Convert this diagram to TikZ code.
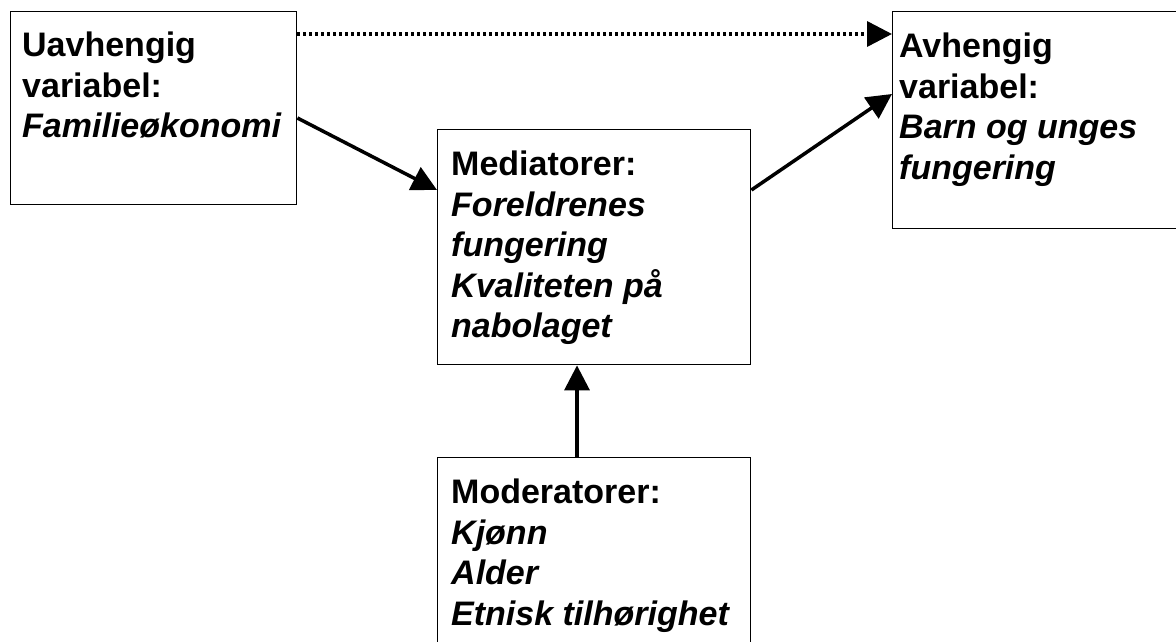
\documentclass[tikz,border=0pt]{standalone}
\usepackage{fontspec}
\setmainfont{Liberation Sans}
\usetikzlibrary{arrows.meta}

\begin{document}
\begin{tikzpicture}[x=1bp,y=-1bp,
  Boks/.style={draw,line width=1.4bp,anchor=north west,inner sep=0pt},
  Tekst/.style={anchor=north west,inner sep=0pt,align=left,
    font=\fontsize{34bp}{40.5bp}\selectfont\bfseries},
  Pil/.style={line width=3.5bp,-{Triangle[length=25bp,width=25bp]}}]
\useasboundingbox (0,0) rectangle (1176,642);

% The four boxes.
\node[Boks,minimum width=286bp,minimum height=193bp] (Uavh) at (10,11) {};
\node[Boks,minimum width=310bp,minimum height=217bp] (Avh) at (892,11) {};
\node[Boks,minimum width=313bp,minimum height=235bp] (Med) at (437,129) {};
\node[Boks,minimum width=313bp,minimum height=200bp] (Mod) at (437,457) {};

% Texts in the boxes.
\node[Tekst] (UavhT) at (22,32) {Uavhengig\\variabel:\\\textit{Familieøkonomi}};
\node[Tekst] (AvhT) at (899,33) {Avhengig\\variabel:\\\textit{Barn og unges}\\\textit{fungering}};
\node[Tekst] (MedT) at (451,151) {Mediatorer:\\\textit{Foreldrenes}\\\textit{fungering}\\\textit{Kvaliteten på}\\\textit{nabolaget}};
\node[Tekst] (ModT) at (451,479) {Moderatorer:\\\textit{Kjønn}\\\textit{Alder}\\\textit{Etnisk tilhørighet}};

% Direct effect.
\draw[Pil,dash pattern=on 3bp off 3bp] ([yshift=-23bp]Uavh.north east) -- ([yshift=-23bp]Avh.north west);

% Mediated effect.
\draw[Pil] ([yshift=-107bp]Uavh.north east) -- ([yshift=-61bp]Med.north west);
\draw[Pil] ([yshift=-61bp]Med.north east) -- ([yshift=-83bp]Avh.north west);

% Moderation.
\draw[Pil] ([xshift=140bp]Mod.north west) -- ([xshift=140bp]Med.south west);

\end{tikzpicture}
\end{document}
